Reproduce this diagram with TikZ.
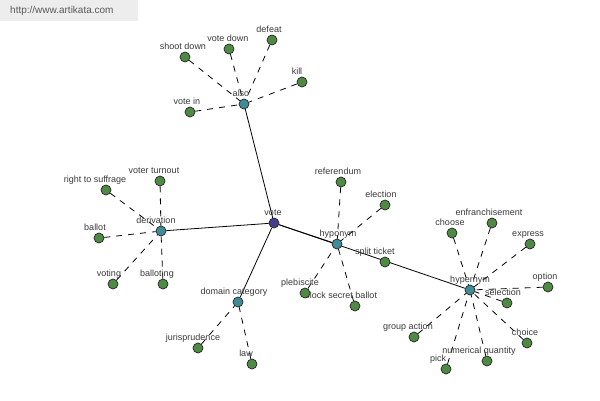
\documentclass[tikz,border=0pt]{standalone}
\usepackage{fontspec}
\setmainfont{Liberation Sans}
\usetikzlibrary{backgrounds}
\definecolor{leafgreen}{HTML}{4F8A45}
\definecolor{relteal}{HTML}{3F8C96}
\definecolor{corenavy}{HTML}{40408C}
\definecolor{labelgray}{HTML}{3A3A3A}
\tikzset{
  leaf/.style={circle, draw=black!85, fill=leafgreen, line width=0.7pt,
               minimum size=10pt, inner sep=0pt},
  rel/.style={leaf, fill=relteal},
  core/.style={leaf, fill=corenavy},
  lbl/.style={font=\fontsize{9}{10}\selectfont, text=labelgray, inner sep=0.5pt,
              text height=6.5pt, text depth=1.8pt},
  link/.style={line width=0.8pt},
  sublink/.style={line width=0.8pt, dash pattern=on 6pt off 6pt},
  every label/.style={lbl},
  label distance=0pt
}

\begin{document}
\begin{tikzpicture}[x=1pt, y=-1pt]
  \useasboundingbox (0,0) rectangle (600,400);
  \node[anchor=north west, fill=black!7, minimum height=21pt, text width=118pt,
        inner xsep=10pt, align=left, text=black!65,
        font=\fontsize{10}{11}\selectfont] (site) at (0,0) {http://www.artikata.com};

  % centre and relation nodes
  \node[core, label={[xshift=-1pt]above:vote}] (vote) at (274,223) {};
  \node[rel, label={[xshift=-3pt]above:also}] (also) at (244,104) {};
  \node[rel, label={[xshift=-5pt]above:derivation}] (derivation) at (161,231) {};
  \node[rel, label={[xshift=-4pt]above:domain category}] (domain) at (238,302) {};
  \node[rel, label={[xshift=1pt]above:hyponym}] (hyponym) at (337,244) {};
  \node[rel, label={[xshift=0pt]above:hypernym}] (hypernym) at (470,290) {};

  % also
  \node[leaf, label={[xshift=-2pt]above:shoot down}] (shootdown) at (185,57) {};
  \node[leaf, label={[xshift=-1pt]above:vote down}] (votedown) at (229,49) {};
  \node[leaf, label={[xshift=-3pt]above:defeat}] (defeat) at (272,40) {};
  \node[leaf, label={[xshift=-5pt]above:kill}] (kill) at (302,82) {};
  \node[leaf, label={[xshift=-3pt]above:vote in}] (votein) at (190,112) {};

  % derivation
  \node[leaf, label={[xshift=-11pt]above:right to suffrage}] (suffrage) at (106,190) {};
  \node[leaf, label={[xshift=-6pt]above:voter turnout}] (turnout) at (160,181) {};
  \node[leaf, label={[xshift=-4pt]above:ballot}] (ballot) at (99,238) {};
  \node[leaf, label={[xshift=-4pt]above:voting}] (voting) at (113,284) {};
  \node[leaf, label={[xshift=-6pt]above:balloting}] (balloting) at (163,284) {};

  % domain category
  \node[leaf, label={[xshift=-5pt]above:jurisprudence}] (jurisprudence) at (198,348) {};
  \node[leaf, label={[xshift=-6pt]above:law}] (law) at (252,364) {};

  % hyponym
  \node[leaf, label={[xshift=-3pt]above:referendum}] (referendum) at (341,182) {};
  \node[leaf, label={[xshift=-4pt]above:election}] (election) at (385,205) {};
  \node[leaf, label={[xshift=-10pt]above:split ticket}] (splitticket) at (385,262) {};
  \node[leaf, label={[xshift=-14pt]above:block secret ballot}] (secretballot) at (355,306) {};
  \node[leaf, label={[xshift=-5pt]above:plebiscite}] (plebiscite) at (305,293) {};

  % hypernym
  \node[leaf, label={[xshift=-2pt]above:choose}] (choose) at (452,233) {};
  \node[leaf, label={[xshift=-3pt]above:enfranchisement}] (enfranchisement) at (492,223) {};
  \node[leaf, label={[xshift=-2pt]above:express}] (express) at (530,244) {};
  \node[leaf, label={[xshift=-3pt]above:option}] (option) at (548,287) {};
  \node[leaf, label={[xshift=-4pt]above:selection}] (selection) at (507,303) {};
  \node[leaf, label={[xshift=-2pt]above:choice}] (choice) at (527,343) {};
  \node[leaf, label={[xshift=-6pt]above:group action}] (groupaction) at (414,337) {};
  \node[leaf, label={[xshift=-8pt]above:numerical quantity}] (quantity) at (487,361) {};
  \node[leaf, label={[xshift=-8pt]above:pick}] (pick) at (446,369) {};

  \begin{scope}[on background layer]
    \fill[white] (0,0) rectangle (600,400);
    \draw[link] (vote) -- (also);
    \draw[link] (vote) -- (derivation);
    \draw[link] (vote) -- (domain);
    \draw[link] (vote) -- (hyponym);
    \draw[link] (vote) -- (hypernym);
    \foreach \n in {shootdown,votedown,defeat,kill,votein}
      \draw[sublink] (\n) -- (also);
    \foreach \n in {suffrage,turnout,ballot,voting,balloting}
      \draw[sublink] (\n) -- (derivation);
    \foreach \n in {jurisprudence,law}
      \draw[sublink] (\n) -- (domain);
    \foreach \n in {referendum,election,plebiscite,secretballot}
      \draw[sublink] (\n) -- (hyponym);
    \foreach \n in {choose,enfranchisement,express,option,selection,choice,groupaction,quantity,pick}
      \draw[sublink] (\n) -- (hypernym);
  \end{scope}
\end{tikzpicture}
\end{document}
